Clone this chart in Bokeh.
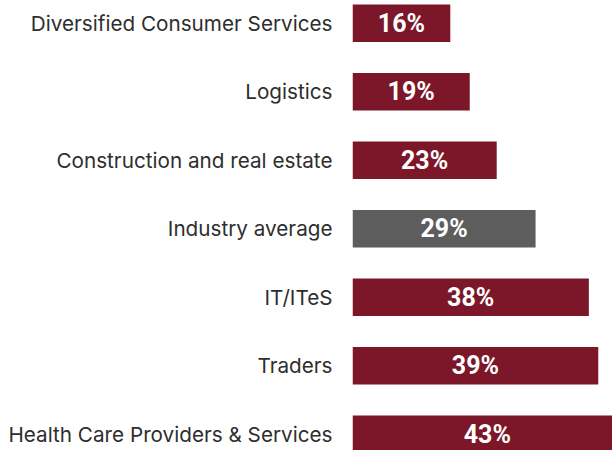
from bokeh.plotting import figure
from bokeh.models import Range1d, FixedTicker, ColumnDataSource
from bokeh.core.properties import value
from bokeh.embed import file_html
from bokeh.resources import INLINE

# Data (top to bottom as shown)
categories = [
    "Diversified Consumer Services",
    "Logistics",
    "Construction and real estate",
    "Industry average",
    "IT/ITeS",
    "Traders",
    "Health Care Providers & Services",
]
values = [15.6, 18.7, 23.0, 29.2, 37.7, 39.2, 43.0]
value_labels = ["16%", "19%", "23%", "29%", "38%", "39%", "43%"]
highlight = "Industry average"

MAROON = "#7b1729"
GREY = "#5d5d5d"

n = len(categories)
ypos = [n - 1 - i for i in range(n)]  # top item at highest position
colors = [GREY if c == highlight else MAROON for c in categories]

src = ColumnDataSource(dict(
    y=ypos, right=values, mid=[v / 2 for v in values],
    lab=value_labels, color=colors,
))

p = figure(
    width=612, height=450,
    x_range=Range1d(0, 41.47),
    y_range=Range1d(-0.2372, 6.3321),
    output_backend="svg", toolbar_location=None,
    min_border_left=352, min_border_right=0, min_border_top=0, min_border_bottom=0,
)
p.hbar(y="y", left=0, right="right", height=0.547, color="color",
       line_color=None, source=src)
p.text(x="mid", y="y", text="lab", source=src,
       text_color="white", text_font=value("Roboto"), text_font_style="bold",
       text_font_size="25px", text_align="center", text_baseline="middle")

p.xaxis.visible = False
yax = p.yaxis[0]
yax.ticker = FixedTicker(ticks=ypos)
yax.major_label_overrides = {y: c for y, c in zip(ypos, categories)}
yax.axis_line_color = None
yax.major_tick_line_color = None
yax.minor_tick_line_color = None
yax.major_tick_out = 0
yax.major_tick_in = 0
yax.major_label_standoff = 20
yax.major_label_text_font = "Inter"
yax.major_label_text_font_size = "20.7px"
yax.major_label_text_color = "#2e2e2e"

p.grid.visible = False
p.outline_line_color = None
p.background_fill_color = "white"
p.border_fill_color = "white"

open("out.html", "w").write(file_html(p, INLINE))
